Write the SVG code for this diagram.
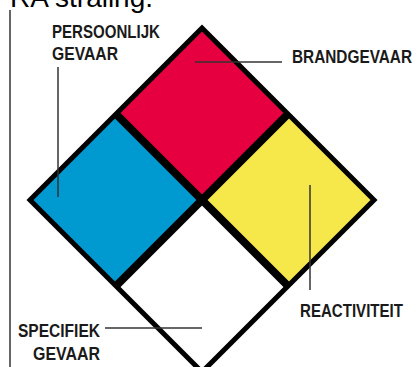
<svg xmlns="http://www.w3.org/2000/svg" width="417" height="367" viewBox="0 0 417 367">
<style>
.lbl{font-family:"Liberation Sans",Arial,sans-serif;font-weight:bold;font-size:18.5px;fill:#1a1a1a}
.title{font-family:"Liberation Sans",Arial,sans-serif;font-size:28px;fill:#000}
.lead{stroke:#333;stroke-width:1.5;fill:none}
.outer{fill:none;stroke:#000;stroke-width:5;stroke-linejoin:miter}
.inner{stroke:#000;stroke-width:8;stroke-linecap:butt}
</style>
<rect width="417" height="367" fill="#fff"/>
<text class="title" x="10" y="7" textLength="143" lengthAdjust="spacingAndGlyphs">RA straling.</text>
<line x1="10" y1="10" x2="10" y2="367" stroke="#333" stroke-width="1.5"/>
<g id="red"><polygon points="202,28 288,114 202,200 116,114" fill="#E6003F"/></g>
<g id="blue"><polygon points="116,114 202,200 116,286 30,200" fill="#0099D0"/></g>
<g id="yellow"><polygon points="288,114 374,200 288,286 202,200" fill="#F6E84A"/></g>
<g id="white"><polygon points="202,200 288,286 202,372 116,286" fill="#fff"/></g>
<g id="frame">
<line class="inner" x1="116" y1="114" x2="288" y2="286"/>
<line class="inner" x1="288" y1="114" x2="116" y2="286"/>
<polygon class="outer" points="202,28 374,200 202,372 30,200"/>
</g>
<g id="connectors">
<line class="lead" x1="58" y1="67" x2="58" y2="197"/>
<line class="lead" x1="195" y1="62" x2="282" y2="62"/>
<line class="lead" x1="310" y1="185" x2="310" y2="290"/>
<line class="lead" x1="105" y1="328" x2="202" y2="328"/>
</g>
<g id="label-persoonlijk">
<text class="lbl" x="52" y="38" textLength="108" lengthAdjust="spacingAndGlyphs">PERSOONLIJK</text>
<text class="lbl" x="52" y="60" textLength="66" lengthAdjust="spacingAndGlyphs">GEVAAR</text>
</g>
<g id="label-brand">
<text class="lbl" x="292" y="63" textLength="120" lengthAdjust="spacingAndGlyphs">BRANDGEVAAR</text>
</g>
<g id="label-reactiviteit">
<text class="lbl" x="300" y="317" textLength="103" lengthAdjust="spacingAndGlyphs">REACTIVITEIT</text>
</g>
<g id="label-specifiek">
<text class="lbl" x="18" y="337" textLength="82" lengthAdjust="spacingAndGlyphs">SPECIFIEK</text>
<text class="lbl" x="33" y="360" textLength="67" lengthAdjust="spacingAndGlyphs">GEVAAR</text>
</g>
</svg>
